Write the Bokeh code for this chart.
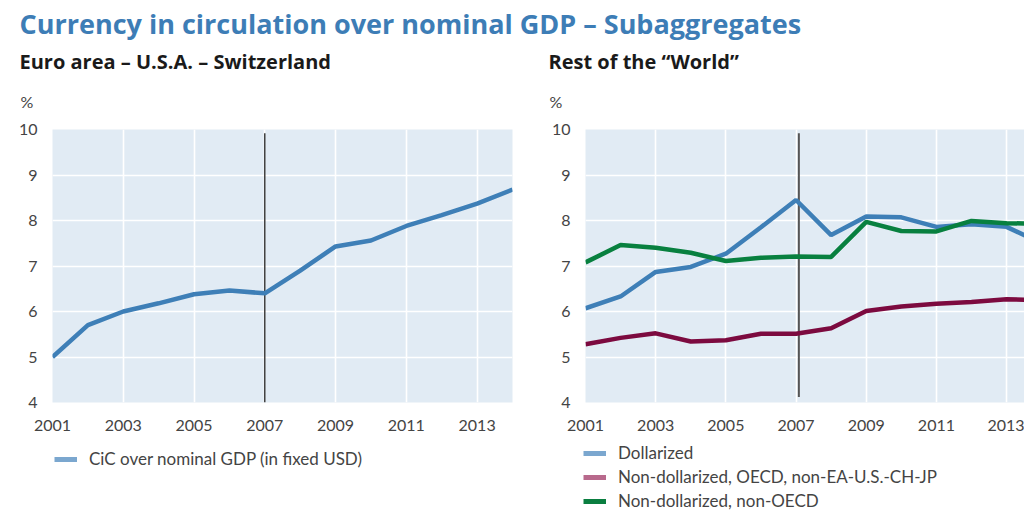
from bokeh.plotting import figure
from bokeh.layouts import column, row
from bokeh.models import Legend, LegendItem, Label, Range1d, FixedTicker
from bokeh.embed import file_html
from bokeh.resources import INLINE

# ---- data ----
years = [2001, 2002, 2003, 2004, 2005, 2006, 2007, 2008, 2009, 2010, 2011, 2012, 2013, 2014]
cic_ea_us_ch = [5.00, 5.70, 6.00, 6.18, 6.38, 6.46, 6.40, 6.90, 7.43, 7.56, 7.88, 8.12, 8.37, 8.68]
dollarized = [6.07, 6.33, 6.87, 6.98, 7.27, 7.85, 8.45, 7.68, 8.09, 8.07, 7.86, 7.92, 7.86, 7.50]
non_dollar_oecd = [5.28, 5.42, 5.52, 5.34, 5.37, 5.51, 5.51, 5.63, 6.01, 6.11, 6.17, 6.21, 6.27, 6.25]
non_dollar_non_oecd = [7.08, 7.46, 7.40, 7.29, 7.11, 7.18, 7.21, 7.20, 7.97, 7.77, 7.76, 7.99, 7.94, 7.93]
x_tick_years = [2001, 2003, 2005, 2007, 2009, 2011, 2013]
y_ticks = [4, 5, 6, 7, 8, 9, 10]
break_year = 2007

main_title = "Currency in circulation over nominal GDP \u2013 Subaggregates"
left_title = "Euro area \u2013 U.S.A. \u2013 Switzerland"
right_title = "Rest of the \u201cWorld\u201d"
unit_label = "%"
left_labels = ["CiC over nominal GDP (in fixed USD)"]
right_labels = ["Dollarized", "Non-dollarized, OECD, non-EA-U.S.-CH-JP", "Non-dollarized, non-OECD"]

# ---- style ----
FONT = "Lato"
HFONT = "Open Sans"
BLUE = "#3e7fb7"
MAROON = "#7c0a3f"
GREEN = "#08803f"
BLUE_L = "#7ba7cf"
MAROON_L = "#b8698c"
GREEN_L = "#0a7e40"
BG = "#e1ebf4"
TXT = "#444444"
W = 1024
NAN = float("nan")


def blank(width, height):
    f = figure(width=width, height=height, x_range=Range1d(0, 1), y_range=Range1d(0, 1),
               x_axis_type=None, y_axis_type=None, output_backend="svg", toolbar_location=None,
               min_border=0, outline_line_color=None, border_fill_color="white",
               background_fill_color="white")
    f.grid.visible = False
    return f


def txt(f, x, y, text, font, size, color, bold=False):
    f.add_layout(Label(x=x, y=y, x_units="screen", y_units="screen", text=text,
                       text_font=font, text_font_style="bold" if bold else "normal",
                       text_font_size=size, text_color=color, text_baseline="alphabetic"))


# ---- header with titles ----
TOP_H = 117
hdr = blank(W, TOP_H)
txt(hdr, 19, TOP_H - 23, main_title, HFONT, "27px", "#3d7db6", bold=True)
txt(hdr, 19, TOP_H - 61, left_title, HFONT, "20px", "#1a1a1a", bold=True)
txt(hdr, 548, TOP_H - 61, right_title, HFONT, "20px", "#1a1a1a", bold=True)
txt(hdr, 20, TOP_H - 101, unit_label, FONT, "16px", TXT)
txt(hdr, 549, TOP_H - 101, unit_label, FONT, "16px", TXT)


# ---- chart panels ----
def make_panel(width, border_left, border_right, x_end):
    p = figure(width=width, height=323, x_range=Range1d(2001, x_end), y_range=Range1d(4, 10),
               output_backend="svg", toolbar_location=None,
               min_border_left=border_left, min_border_right=border_right,
               min_border_top=12, min_border_bottom=38,
               background_fill_color=BG, border_fill_color="white", outline_line_color=None)
    p.xaxis.ticker = FixedTicker(ticks=x_tick_years)
    p.yaxis.ticker = FixedTicker(ticks=y_ticks)
    for ax in p.axis:
        ax.axis_line_color = None
        ax.major_tick_line_color = None
        ax.minor_tick_line_color = None
        ax.major_tick_out = 0
        ax.major_tick_in = 0
        ax.minor_tick_out = 0
        ax.minor_tick_in = 0
        ax.major_label_text_font = FONT
        ax.major_label_text_font_size = "16px"
        ax.major_label_text_color = TXT
    p.yaxis.major_label_standoff = 15
    p.xaxis.major_label_standoff = 17
    p.grid.grid_line_color = "white"
    p.grid.grid_line_width = 1.6
    return p


p1 = make_panel(537, 52, 25, 2014)
p1.segment(x0=[break_year], y0=[4], x1=[break_year], y1=[9.92], line_color="#111111", line_width=1.2)
p1.line(years, cic_ea_us_ch, line_color=BLUE, line_width=4.5)

p2 = make_panel(W - 537, 48, 0, 2013.51)
p2.segment(x0=[break_year + 0.08], y0=[4.12], x1=[break_year + 0.08], y1=[9.92],
           line_color="#555555", line_width=2)
p2.line(years, dollarized, line_color=BLUE, line_width=4.5)
p2.line(years, non_dollar_oecd, line_color=MAROON, line_width=4.5)
p2.line(years, non_dollar_non_oecd, line_color=GREEN, line_width=4.5)

# ---- legends (swatch renderers hold no visible data) ----
BOT_H = 71
foot = blank(W, BOT_H)
swatch_l = foot.line(x=[NAN], y=[NAN], line_color=BLUE_L, line_width=5)
swatch_a = foot.line(x=[NAN], y=[NAN], line_color=BLUE_L, line_width=5)
swatch_b = foot.line(x=[NAN], y=[NAN], line_color=MAROON_L, line_width=5)
swatch_c = foot.line(x=[NAN], y=[NAN], line_color=GREEN_L, line_width=5)


def make_legend(labels, renderers, x, y):
    return Legend(items=[LegendItem(label=l, renderers=[r]) for l, r in zip(labels, renderers)],
                  location=(x, y), orientation="vertical", padding=0, margin=0, spacing=3,
                  label_height=20, glyph_height=20, glyph_width=23, label_standoff=12,
                  label_text_font=FONT, label_text_font_size="17px", label_text_color=TXT,
                  border_line_alpha=0, background_fill_alpha=0)


foot.add_layout(make_legend(left_labels, [swatch_l], 54, BOT_H - 29))
foot.add_layout(make_legend(right_labels, [swatch_a, swatch_b, swatch_c], 583, 0))

layout = column(hdr, row(p1, p2, spacing=0), foot, spacing=0)
open("out.html", "w").write(file_html(layout, INLINE))
